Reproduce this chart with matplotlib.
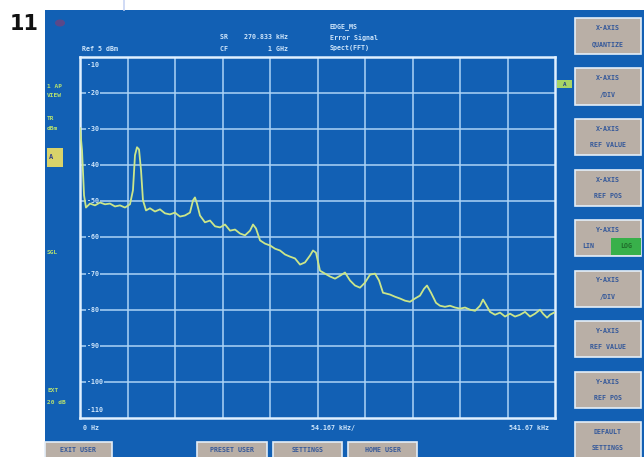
import matplotlib
matplotlib.use("Agg")
import matplotlib.pyplot as plt
from matplotlib.patches import Rectangle, Circle

# ---- data -------------------------------------------------------------
freq_khz = [0.0, 2.3, 4.6, 6.8, 11.4, 17.1, 22.8, 28.5, 34.2, 39.9, 45.6, 51.3,
            57.0, 60.4, 62.7, 65.0, 67.3, 69.6, 71.8, 75.3, 79.8, 85.5, 91.2,
            96.9, 102.6, 108.3, 114.0, 119.7, 125.4, 128.9, 131.1, 133.4, 136.8,
            142.5, 148.3, 154.0, 159.7, 165.4, 171.1, 176.8, 182.5, 188.2, 193.9,
            197.3, 200.7, 205.3, 211.0, 216.7, 222.4, 228.1, 233.8, 239.5, 245.2,
            250.9, 256.6, 262.3, 265.7, 269.1, 273.7, 279.4, 285.1, 290.8, 296.5,
            302.2, 307.9, 313.6, 319.3, 325.0, 330.7, 336.4, 341.0, 345.5, 353.5,
            359.2, 364.9, 370.6, 376.3, 382.0, 387.7, 392.3, 395.7, 400.3, 406.0,
            410.5, 416.2, 421.9, 427.7, 433.4, 439.1, 444.8, 450.5, 456.2, 459.6,
            463.0, 467.6, 473.3, 479.0, 484.7, 490.4, 496.1, 501.8, 507.5, 513.2,
            518.9, 524.6, 528.0, 532.6, 536.0, 540.6]
level_db = [-29.7, -35.8, -48.3, -51.7, -50.6, -51.1, -50.3, -50.8, -50.6, -51.4,
            -51.1, -51.7, -50.8, -46.9, -37.2, -35.0, -35.6, -41.4, -49.7, -52.5,
            -51.9, -52.8, -52.2, -53.3, -53.6, -53.1, -54.2, -53.9, -53.1, -49.7,
            -48.9, -50.6, -53.9, -55.8, -55.3, -56.9, -57.2, -56.4, -58.1, -57.8,
            -58.9, -59.4, -58.1, -56.4, -57.5, -60.8, -61.7, -62.2, -63.1, -63.6,
            -64.7, -65.3, -65.8, -67.5, -66.9, -65.0, -63.6, -64.2, -69.2, -70.0,
            -70.8, -71.4, -70.6, -69.7, -71.9, -73.3, -73.9, -72.5, -70.3, -70.0,
            -71.9, -75.3, -75.8, -76.4, -76.9, -77.5, -77.8, -76.9, -76.1, -74.2,
            -73.3, -75.3, -78.1, -78.9, -79.2, -78.9, -79.4, -79.7, -79.4, -80.0,
            -80.3, -78.9, -77.2, -78.6, -80.6, -81.4, -80.8, -81.9, -81.1, -81.9,
            -81.4, -80.6, -81.9, -81.1, -80.0, -81.1, -82.2, -81.4, -80.8]

span_khz = 541.67
div_khz = 54.167
y_ticks = [-10, -20, -30, -40, -50, -60, -70, -80, -90, -100, -110]
x_labels = ["0 Hz", "54.167 kHz/", "541.67 kHz"]
side_keys = [("X-AXIS", "QUANTIZE"), ("X-AXIS", "/DIV"), ("X-AXIS", "REF VALUE"),
             ("X-AXIS", "REF POS"), ("Y-AXIS", "LIN"), ("Y-AXIS", "/DIV"),
             ("Y-AXIS", "REF VALUE"), ("Y-AXIS", "REF POS"), ("DEFAULT", "SETTINGS")]
bottom_keys = ["EXIT USER", "PRESET USER", "SETTINGS", "HOME USER"]
header_left = ["SR    270.833 kHz", "CF          1 GHz"]
header_right = ["EDGE_MS", "Error Signal", "Spect(FFT)"]

# ---- style ------------------------------------------------------------
W, H = 644, 457
SCREEN = "#1260b4"
GRID = "#acd4f6"
FRAME = "#e0f0ff"
TXT = "#cfe6fb"
TRACE = "#cbe68a"
KEY_FACE = "#b9afa6"
KEY_TXT = "#34589a"
MONO = "DejaVu Sans Mono"

fig = plt.figure(figsize=(W / 100, H / 100), dpi=100, facecolor="white")


def fx(x):
    return x / W


def fy(y):
    return 1 - y / H


def rect(x0, y0, x1, y1, **kw):
    fig.add_artist(Rectangle((fx(x0), fy(y1)), fx(x1) - fx(x0), fy(y0) - fy(y1),
                             transform=fig.transFigure, **kw))


def label(x, y, s, **kw):
    opts = dict(color=TXT, fontsize=4.8, family=MONO, va="center",
                fontweight="bold")
    opts.update(kw)
    fig.text(fx(x), fy(y), s, **opts)


# screen background
rect(45, 10, W, H, facecolor=SCREEN, edgecolor="none", zorder=0)
fig.add_artist(Circle((fx(60), fy(23)), 5 / W, transform=fig.transFigure,
                      facecolor="#7a3f78", edgecolor="none", alpha=0.7))
fig.add_artist(plt.Line2D([fx(124), fx(124)], [fy(0), fy(10)],
                          transform=fig.transFigure, color="#c8d4f4", lw=1.2))
fig.text(fx(10), fy(24), "11", fontsize=15, fontweight="bold", color="#111111",
         va="center", ha="left", family="DejaVu Sans")

# ---- trace diagram ----------------------------------------------------
L, R, T, B = 80, 555, 57, 418
ax = fig.add_axes([fx(L), fy(B), fx(R) - fx(L), fy(T) - fy(B)])
ax.set_facecolor(SCREEN)
ax.set_xlim(0, span_khz)
ax.set_ylim(y_ticks[-1], y_ticks[0])
for i in range(1, 10):
    ax.axvline(i * div_khz, color=GRID, lw=1.1, zorder=1)
for v in y_ticks[1:-1]:
    ax.axhline(v, color=GRID, lw=1.1, zorder=1)
for s in ax.spines.values():
    s.set_color(FRAME)
    s.set_linewidth(1.8)
ax.set_xticks([])
ax.set_yticks([])

for v in y_ticks:
    va = "top" if v == y_ticks[0] else ("bottom" if v == y_ticks[-1] else "center")
    off = -1.5 if v == y_ticks[0] else (1.5 if v == y_ticks[-1] else 0)
    ax.text(8, v + off, f"{v}", color=TXT, fontsize=4.8, family=MONO,
            fontweight="bold", va=va, ha="left", zorder=2,
            bbox=dict(facecolor=SCREEN, edgecolor="none", pad=0.6))

ax.plot(freq_khz, level_db, color=TRACE, lw=1.3, zorder=3)

# ---- annotations ------------------------------------------------------
label(82, 49, "Ref 5 dBm")
label(220, 37, header_left[0])
label(220, 49, header_left[1])
for i, s in enumerate(header_right):
    label(330, 27 + 10.5 * i, s)

label(83, 428, x_labels[0])
label(333, 428, x_labels[1], ha="center")
label(549, 428, x_labels[2], ha="right")

side = dict(color="#b6e070", fontsize=4.4)
label(47, 86, "1 AP", **side)
label(47, 96, "VIEW", **side)
label(47, 118, "TR", **side)
label(47, 128, "dBm", **side)
rect(47, 148, 63, 167, facecolor="#d9d36a", edgecolor="none")
label(49, 157, "A", color="#30408a", fontsize=5)
label(47, 253, "SGL", **side)
label(47, 390, "EXT", **side)
label(47, 403, "20 dB", **side)

rect(557, 80, 572, 88, facecolor="#a6d466", edgecolor="none")
label(564.5, 84, "A", color="#1d3f8a", fontsize=4.2, ha="center")

# ---- softkeys ---------------------------------------------------------
for i, (top, bot) in enumerate(side_keys):
    y0 = 18 + 50.5 * i
    rect(575, y0, 641, y0 + 36, facecolor=KEY_FACE, edgecolor="#e4eef8", lw=1.2)
    label(608, y0 + 10, top, color=KEY_TXT, ha="center")
    if bot == "LIN":
        rect(611, y0 + 18, 641, y0 + 35, facecolor="#38b04a", edgecolor="none")
        label(588, y0 + 26, "LIN", color=KEY_TXT, ha="center")
        label(626, y0 + 26, "LOG", color="#1f6a2a", ha="center")
    else:
        label(608, y0 + 26, bot, color=KEY_TXT, ha="center")

for x0, x1, s in [(45, 112, bottom_keys[0]), (197, 267, bottom_keys[1]),
                  (273, 342, bottom_keys[2]), (348, 417, bottom_keys[3])]:
    rect(x0, 442, x1, 460, facecolor=KEY_FACE, edgecolor="#e4eef8", lw=1.2)
    label((x0 + x1) / 2, 450, s, color=KEY_TXT, ha="center")

fig.savefig("out.png", dpi=100, facecolor="white")
